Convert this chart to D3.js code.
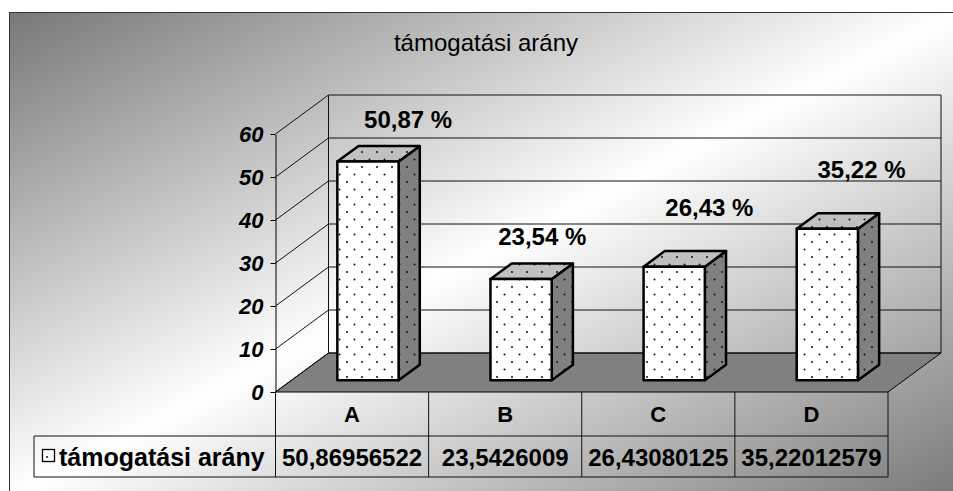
<!DOCTYPE html>
<html>
<head>
<meta charset="utf-8">
<script src="https://cdn.jsdelivr.net/npm/d3@7"></script>
<style>
  body { margin: 0; background: #fff; }
  svg text { font-family: "Liberation Sans", Arial, sans-serif; fill: #000; }
</style>
</head>
<body>
<div id="chart"></div>
<script>
// Data
const categories = ["A", "B", "C", "D"];
const values = [50.86956522, 23.5426009, 26.43080125, 35.22012579];
const seriesName = "támogatási arány";
const yTicks = [0, 10, 20, 30, 40, 50, 60];
const title = "támogatási arány";

// Layout
const width = 953, height = 491;
const plot = { left: 275.5, right: 888, bottom: 392, top: 134 };
const depth = { dx: 53, dy: -39 };      // full floor depth
const barZ = [0.3, 0.7];                 // bar front/back as share of depth
const barSpan = [0.3, 0.7];              // bar share of band
const table = { left: 34, row1: 436, row2: 477 };
// hand placed data labels (offsets from back top centre)
const labelShift = [[19, -18], [0, -18], [14, -35], [13, -35]];

const svg = d3.select("#chart")
    .append("svg")
    .attr("width", width)
    .attr("height", height);

const defs = svg.append("defs");

// background gradient
const grad = defs.append("linearGradient")
    .attr("id", "bg")
    .attr("x1", 0).attr("y1", 0).attr("x2", 1).attr("y2", 1);
grad.append("stop").attr("offset", 0).attr("stop-color", "#787878");
grad.append("stop").attr("offset", 0.5).attr("stop-color", "#ffffff");
grad.append("stop").attr("offset", 1).attr("stop-color", "#787878");

// dotted fills
function dotPattern(id, bg) {
    const p = defs.append("pattern")
        .attr("id", id)
        .attr("patternUnits", "userSpaceOnUse")
        .attr("width", 15).attr("height", 15);
    p.append("rect").attr("width", 15).attr("height", 15).attr("fill", bg);
    p.append("circle").attr("cx", 2).attr("cy", 2).attr("r", 1).attr("fill", "#111");
    p.append("circle").attr("cx", 9.5).attr("cy", 9.5).attr("r", 1).attr("fill", "#111");
}
dotPattern("dotFront", "#ffffff");
dotPattern("dotTop", "#c0c0c0");
dotPattern("dotSide", "#808080");

svg.append("rect")
    .attr("x", 9.5).attr("y", 12.5)
    .attr("width", 950).attr("height", 485)
    .attr("fill", "url(#bg)")
    .attr("stroke", "#333");

svg.append("text")
    .attr("x", 486)
    .attr("y", 51)
    .attr("text-anchor", "middle")
    .style("font-size", "24px")
    .text(title);

// Scales
const x = d3.scaleBand()
    .domain(categories)
    .range([plot.left, plot.right]);

const y = d3.scaleLinear()
    .domain([0, 60])
    .range([plot.bottom, plot.top]);

const bw = x.bandwidth();
const P = (px, py, z) => [px + z * depth.dx, py + z * depth.dy];

// Floor
const floor = [P(plot.left, y(0), 0), P(plot.right, y(0), 0), P(plot.right, y(0), 1), P(plot.left, y(0), 1)];
svg.append("polygon")
    .attr("points", floor.map(p => p.join(",")).join(" "))
    .attr("fill", "#808080")
    .attr("stroke", "#000")
    .attr("stroke-width", 1);

// Walls: gridlines
const grid = svg.append("g").attr("stroke", "#111").attr("stroke-width", 1).attr("fill", "none");
yTicks.forEach(t => {
    const a = P(plot.left, y(t), 0), b = P(plot.left, y(t), 1), c = P(plot.right, y(t), 1);
    grid.append("path").attr("d", `M${a}L${b}L${c}`);
});
[plot.left, plot.right].forEach(px => {
    const a = P(px, y(0), 1), b = P(px, y(60), 1);
    grid.append("path").attr("d", `M${a}L${b}`);
});

// Y axis
const yAxis = svg.append("g")
    .attr("transform", `translate(${plot.left},0)`)
    .call(d3.axisLeft(y).tickValues(yTicks).tickSize(5).tickSizeOuter(0).tickPadding(7));
yAxis.select(".domain").attr("stroke", "#000");
yAxis.selectAll(".tick line").attr("stroke", "#000");
yAxis.selectAll(".tick text")
    .style("font-size", "22px")
    .style("font-weight", "bold")
    .style("font-style", "italic")
    .attr("dy", "0.36em");

// Bars
const bars = svg.append("g")
    .attr("stroke", "#000")
    .attr("stroke-width", 2.5)
    .attr("stroke-linejoin", "round");

categories.forEach((c, i) => {
    const x0 = x(c) + bw * barSpan[0], x1 = x(c) + bw * barSpan[1];
    const yb = y(0), yt = y(values[i]);
    const f = barZ[0], b = barZ[1];
    const ftl = P(x0, yt, f), ftr = P(x1, yt, f), fbr = P(x1, yb, f);
    const btl = P(x0, yt, b), btr = P(x1, yt, b), bbr = P(x1, yb, b);
    bars.append("polygon")
        .attr("points", [ftr, btr, bbr, fbr].map(p => p.join(",")).join(" "))
        .attr("fill", "url(#dotSide)");
    bars.append("polygon")
        .attr("points", [ftl, ftr, btr, btl].map(p => p.join(",")).join(" "))
        .attr("fill", "url(#dotTop)");
    bars.append("rect")
        .attr("x", ftl[0]).attr("y", ftl[1])
        .attr("width", x1 - x0).attr("height", fbr[1] - ftl[1])
        .attr("fill", "url(#dotFront)");

    // data label
    const cx = (btl[0] + btr[0]) / 2;
    svg.append("text")
        .attr("x", cx + labelShift[i][0])
        .attr("y", btl[1] + labelShift[i][1])
        .attr("text-anchor", "middle")
        .style("font-size", "24px")
        .style("font-weight", "bold")
        .text(d3.format(".2f")(values[i]).replace(".", ",") + " %");
});

// Data table
const tbl = svg.append("g").attr("stroke", "#111").attr("stroke-width", 1);
tbl.append("line").attr("x1", table.left).attr("x2", plot.right).attr("y1", table.row1).attr("y2", table.row1);
tbl.append("line").attr("x1", table.left).attr("x2", plot.right).attr("y1", table.row2).attr("y2", table.row2);
tbl.append("line").attr("x1", table.left).attr("x2", table.left).attr("y1", table.row1).attr("y2", table.row2);
[plot.left, ...categories.map(c => x(c) + bw)].forEach(px => {
    tbl.append("line").attr("x1", px).attr("x2", px).attr("y1", y(0)).attr("y2", table.row2);
});

categories.forEach((c, i) => {
    svg.append("text")
        .attr("x", x(c) + bw / 2)
        .attr("y", 422)
        .attr("text-anchor", "middle")
        .style("font-size", "22px")
        .style("font-weight", "bold")
        .text(c);
    svg.append("text")
        .attr("x", x(c) + bw / 2)
        .attr("y", 466)
        .attr("text-anchor", "middle")
        .style("font-size", "24px")
        .style("font-weight", "bold")
        .text(String(values[i]).replace(".", ","));
});

// legend key + series name
svg.append("rect")
    .attr("x", 42.5).attr("y", 449.5)
    .attr("width", 12).attr("height", 12)
    .attr("fill", "#fff")
    .attr("stroke", "#000")
    .attr("stroke-width", 1.3);
svg.append("circle").attr("cx", 47).attr("cy", 457).attr("r", 1).attr("fill", "#111");
svg.append("text")
    .attr("x", 59)
    .attr("y", 466)
    .style("font-size", "25px")
    .style("font-weight", "bold")
    .text(seriesName);
</script>
</body>
</html>
